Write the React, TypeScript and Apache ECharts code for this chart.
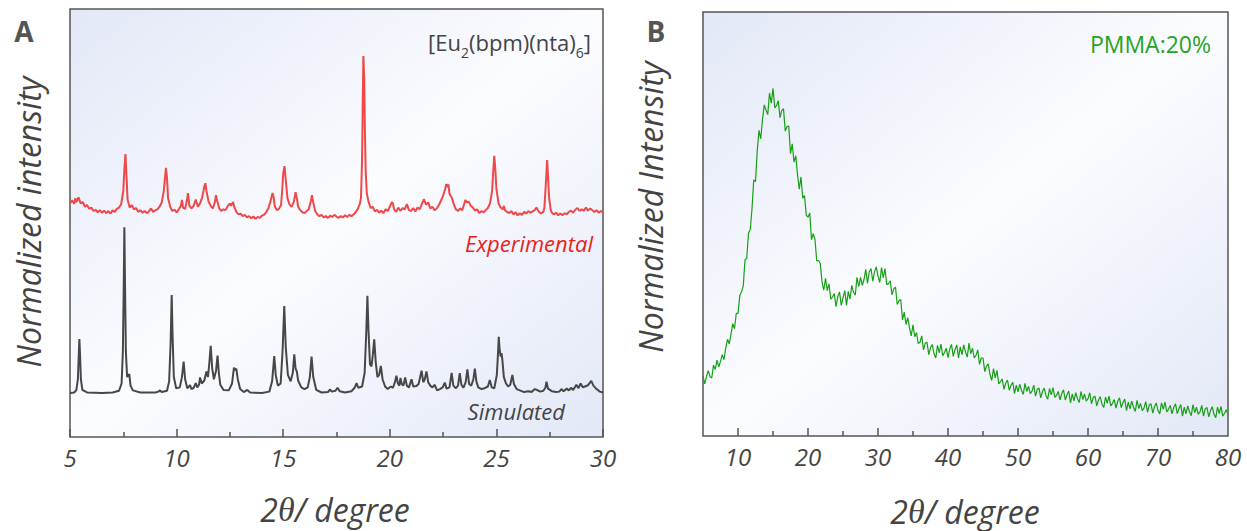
import React, { useEffect, useRef } from 'react';
import * as echarts from 'echarts';

// ---- Panel A: experimental PXRD (red), values already include the vertical offset ----
const EXP_POINTS: number[][] = [
  [5.0, 54.6], [5.1, 55.3], [5.2, 54.5], [5.25, 55.8], [5.3, 54.9], [5.4, 56.0], [5.5, 54.6], [5.6, 54.9], [5.7, 53.8], [5.8, 54.2],
  [5.9, 53.3], [6.0, 53.6], [6.1, 52.8], [6.2, 53.1], [6.3, 52.5], [6.4, 53.0], [6.5, 52.4], [6.6, 52.9], [6.7, 52.3], [6.8, 52.8],
  [6.9, 52.2], [7.0, 53.0], [7.1, 52.6], [7.2, 53.3], [7.3, 53.6], [7.4, 54.4], [7.5, 57.5], [7.55, 62.5], [7.6, 66.1], [7.65, 61.0],
  [7.7, 55.5], [7.8, 53.6], [7.9, 54.2], [8.0, 53.2], [8.1, 53.5], [8.2, 52.6], [8.3, 53.0], [8.4, 52.4], [8.5, 52.8], [8.6, 52.3],
  [8.7, 52.7], [8.8, 53.4], [8.9, 52.6], [9.0, 53.0], [9.1, 53.2], [9.2, 53.8], [9.3, 54.8], [9.4, 57.5], [9.5, 62.9], [9.55, 60.5],
  [9.6, 55.8], [9.7, 53.8], [9.8, 52.8], [9.9, 53.1], [10.0, 52.5], [10.1, 53.2], [10.2, 54.0], [10.25, 55.4], [10.3, 53.6], [10.4, 53.3],
  [10.5, 55.8], [10.53, 57.0], [10.6, 54.0], [10.7, 53.4], [10.8, 54.0], [10.9, 55.5], [11.0, 53.8], [11.1, 54.6], [11.2, 56.0], [11.3, 58.5],
  [11.35, 59.3], [11.4, 57.5], [11.5, 55.0], [11.6, 54.0], [11.7, 53.4], [11.8, 55.0], [11.85, 56.5], [11.9, 55.2], [12.0, 53.4], [12.1, 52.8],
  [12.2, 53.2], [12.3, 53.0], [12.4, 54.0], [12.5, 54.6], [12.55, 54.0], [12.65, 54.9], [12.7, 53.8], [12.8, 52.6], [12.9, 52.0], [13.0, 52.2],
  [13.1, 51.6], [13.2, 51.9], [13.3, 51.3], [13.4, 51.6], [13.5, 51.1], [13.6, 51.5], [13.7, 51.0], [13.8, 51.4], [13.9, 51.2], [14.0, 51.7],
  [14.1, 51.9], [14.2, 52.5], [14.3, 53.4], [14.4, 55.0], [14.5, 57.0], [14.55, 56.2], [14.6, 54.0], [14.7, 53.0], [14.8, 53.3], [14.9, 54.2],
  [14.95, 57.5], [15.0, 61.5], [15.06, 63.3], [15.12, 60.0], [15.2, 55.8], [15.3, 54.3], [15.4, 53.8], [15.5, 55.0], [15.58, 57.2], [15.65, 55.5],
  [15.7, 53.8], [15.8, 53.0], [15.9, 52.5], [16.0, 52.3], [16.1, 52.8], [16.2, 53.2], [16.3, 55.2], [16.35, 56.5], [16.4, 55.0], [16.5, 52.8],
  [16.6, 52.0], [16.7, 51.6], [16.8, 51.9], [16.9, 51.3], [17.0, 51.6], [17.1, 51.2], [17.2, 51.7], [17.3, 51.4], [17.4, 51.9], [17.5, 51.5],
  [17.6, 51.2], [17.7, 51.6], [17.8, 51.3], [17.9, 51.8], [18.0, 51.4], [18.1, 51.9], [18.2, 51.6], [18.3, 52.0], [18.4, 52.5], [18.5, 53.3],
  [18.6, 54.5], [18.65, 56.0], [18.7, 65.0], [18.73, 78.0], [18.76, 89.0], [18.8, 84.0], [18.83, 72.0], [18.87, 62.0], [18.92, 57.0], [19.0, 55.0],
  [19.1, 53.5], [19.2, 53.8], [19.3, 52.7], [19.4, 53.1], [19.5, 52.4], [19.6, 52.9], [19.7, 52.3], [19.8, 53.2], [19.9, 52.8], [20.0, 53.8],
  [20.1, 54.9], [20.15, 54.5], [20.2, 53.2], [20.3, 52.6], [20.4, 53.6], [20.5, 52.8], [20.6, 53.5], [20.7, 53.2], [20.8, 54.4], [20.9, 53.0],
  [21.0, 52.8], [21.1, 53.5], [21.2, 52.7], [21.3, 53.6], [21.4, 53.2], [21.5, 54.4], [21.6, 55.6], [21.7, 54.3], [21.8, 54.8], [21.9, 53.4],
  [22.0, 53.8], [22.1, 53.0], [22.2, 53.4], [22.3, 54.2], [22.4, 55.2], [22.5, 56.4], [22.6, 58.0], [22.65, 59.1], [22.7, 58.4], [22.75, 59.0],
  [22.8, 56.8], [22.9, 56.0], [23.0, 54.4], [23.1, 53.2], [23.2, 52.8], [23.3, 53.4], [23.4, 53.0], [23.5, 54.6], [23.55, 55.4], [23.6, 54.8],
  [23.7, 55.0], [23.8, 54.0], [23.9, 53.6], [24.0, 52.9], [24.1, 53.2], [24.2, 52.3], [24.3, 52.8], [24.4, 52.5], [24.5, 53.0], [24.6, 53.5],
  [24.7, 54.6], [24.8, 57.5], [24.85, 62.0], [24.9, 65.7], [24.95, 62.5], [25.0, 58.0], [25.1, 54.6], [25.2, 53.6], [25.3, 53.2], [25.35, 54.0],
  [25.4, 53.0], [25.5, 52.6], [25.6, 52.3], [25.7, 52.8], [25.8, 52.0], [25.9, 52.5], [26.0, 51.8], [26.1, 52.3], [26.2, 51.9], [26.3, 52.6],
  [26.4, 52.2], [26.5, 52.8], [26.6, 52.4], [26.7, 52.7], [26.8, 53.0], [26.88, 53.6], [26.95, 53.0], [27.0, 52.6], [27.1, 52.2], [27.2, 52.6],
  [27.25, 53.5], [27.3, 57.5], [27.35, 62.0], [27.38, 64.7], [27.42, 61.0], [27.47, 56.0], [27.55, 53.0], [27.6, 52.4], [27.7, 52.0], [27.8, 52.4],
  [27.9, 51.8], [28.0, 52.2], [28.1, 51.8], [28.2, 52.3], [28.3, 52.0], [28.4, 52.6], [28.5, 52.9], [28.6, 52.4], [28.7, 53.1], [28.8, 53.5],
  [28.9, 52.8], [29.0, 53.2], [29.1, 52.9], [29.2, 53.6], [29.3, 52.9], [29.4, 53.4], [29.5, 53.0], [29.6, 52.6], [29.7, 53.0], [29.8, 52.4],
  [29.9, 52.8], [30.0, 52.5],
];

// ---- Panel A: simulated PXRD (dark grey) ----
const SIM_POINTS: number[][] = [
  [5.0, 10.3], [5.2, 10.4], [5.3, 11.0], [5.37, 13.5], [5.41, 19.0], [5.44, 22.9], [5.47, 19.5], [5.51, 13.5], [5.58, 11.0], [5.8, 10.4],
  [6.5, 10.3], [7.0, 10.4], [7.3, 10.8], [7.42, 12.5], [7.48, 20.0], [7.52, 35.0], [7.55, 49.0], [7.58, 36.0], [7.62, 20.0], [7.68, 14.0],
  [7.74, 14.5], [7.78, 14.7], [7.84, 12.0], [7.95, 10.9], [8.3, 10.4], [9.0, 10.4], [9.15, 10.6], [9.22, 10.9], [9.3, 10.5], [9.55, 10.8],
  [9.65, 13.0], [9.72, 22.0], [9.77, 33.2], [9.81, 24.0], [9.87, 14.0], [9.98, 11.4], [10.15, 11.6], [10.25, 14.0], [10.33, 17.6], [10.4, 13.5],
  [10.5, 11.4], [10.58, 11.8], [10.63, 12.1], [10.7, 11.2], [10.8, 11.5], [10.9, 12.6], [10.97, 11.6], [11.05, 12.2], [11.1, 13.9], [11.18, 12.5],
  [11.3, 13.2], [11.4, 15.3], [11.47, 14.0], [11.53, 17.0], [11.6, 21.3], [11.67, 16.0], [11.75, 13.5], [11.85, 15.5], [11.92, 19.0], [11.98, 15.0],
  [12.05, 12.2], [12.2, 11.0], [12.45, 10.9], [12.6, 12.5], [12.69, 16.2], [12.75, 15.6], [12.8, 16.0], [12.87, 13.5], [12.98, 11.2], [13.15, 10.5],
  [13.31, 11.0], [13.45, 10.4], [14.0, 10.3], [14.35, 10.6], [14.48, 13.0], [14.58, 18.9], [14.65, 14.5], [14.75, 12.0], [14.88, 12.5], [14.97, 20.0],
  [15.05, 30.6], [15.12, 21.0], [15.22, 14.5], [15.35, 13.0], [15.45, 15.0], [15.52, 19.3], [15.58, 16.0], [15.64, 15.3], [15.7, 13.2], [15.85, 11.6],
  [16.0, 11.2], [16.15, 11.6], [16.25, 14.0], [16.33, 18.8], [16.41, 14.0], [16.55, 11.0], [16.8, 10.4], [17.1, 10.5], [17.19, 11.1], [17.28, 10.6],
  [17.45, 10.8], [17.55, 11.5], [17.65, 10.7], [17.9, 10.4], [18.2, 10.7], [18.35, 11.5], [18.44, 12.6], [18.52, 11.5], [18.7, 11.8], [18.82, 15.0],
  [18.9, 25.0], [18.95, 33.0], [19.0, 25.0], [19.07, 17.0], [19.14, 16.5], [19.2, 19.0], [19.27, 22.8], [19.34, 17.5], [19.42, 14.0], [19.5, 14.5],
  [19.58, 16.6], [19.66, 13.5], [19.78, 11.8], [19.9, 11.2], [20.05, 11.8], [20.15, 11.5], [20.25, 13.0], [20.31, 14.3], [20.38, 12.5], [20.45, 12.0],
  [20.5, 13.8], [20.56, 12.4], [20.64, 12.0], [20.72, 13.9], [20.8, 12.0], [20.9, 11.6], [21.02, 13.5], [21.1, 11.8], [21.25, 11.9], [21.35, 12.4],
  [21.49, 15.5], [21.57, 12.8], [21.64, 13.5], [21.72, 15.3], [21.8, 12.8], [21.9, 12.0], [22.0, 11.6], [22.1, 12.2], [22.22, 10.9], [22.35, 11.2],
  [22.48, 11.6], [22.58, 12.7], [22.66, 11.3], [22.8, 11.6], [22.9, 15.0], [22.98, 12.0], [23.1, 11.4], [23.2, 12.0], [23.28, 14.9], [23.36, 12.2],
  [23.45, 11.5], [23.56, 12.8], [23.64, 15.8], [23.72, 12.4], [23.82, 12.0], [23.92, 13.5], [23.99, 16.0], [24.06, 13.0], [24.15, 11.6], [24.3, 11.2],
  [24.45, 11.4], [24.6, 11.8], [24.69, 13.3], [24.78, 11.6], [24.9, 11.4], [25.02, 14.5], [25.08, 20.0], [25.11, 23.4], [25.15, 20.5], [25.2, 18.8],
  [25.24, 19.6], [25.28, 18.0], [25.35, 14.0], [25.45, 12.5], [25.55, 11.8], [25.65, 12.2], [25.75, 14.5], [25.82, 12.4], [25.95, 11.2], [26.1, 10.9],
  [26.3, 10.5], [26.5, 10.7], [26.65, 10.5], [26.8, 11.2], [26.9, 11.0], [27.05, 10.6], [27.2, 10.8], [27.3, 11.5], [27.35, 12.9], [27.42, 11.3],
  [27.6, 10.7], [27.8, 10.5], [27.95, 10.6], [28.05, 11.2], [28.15, 10.7], [28.3, 11.3], [28.4, 10.9], [28.5, 11.5], [28.6, 11.0], [28.75, 12.2],
  [28.85, 11.4], [28.95, 12.5], [29.05, 11.6], [29.15, 11.8], [29.3, 12.1], [29.45, 13.1], [29.55, 12.0], [29.7, 11.2], [29.85, 10.6], [30.0, 10.4],
];

// ---- Panel B: PMMA:20% pattern, sampled every 0.25 degree from 5 to 80 ----
const PMMA_X_START = 5;
const PMMA_X_STEP = 0.25;
const PMMA_Y: number[] = [
  14.1, 12.3, 14.1, 15.4, 14.0, 13.7, 16.7, 15.7, 17.9, 16.3, 17.6, 19.2, 18.0, 20.8, 22.8, 21.7,
  24.1, 26.5, 25.3, 28.9, 28.9, 33.1, 34.0, 35.4, 41.5, 41.9, 47.9, 48.7, 53.6, 60.4, 60.0, 67.3,
  72.1, 70.1, 74.7, 78.1, 76.9, 75.8, 80.9, 78.5, 82.0, 77.4, 77.9, 79.1, 75.1, 76.8, 77.2, 71.9,
  73.0, 73.1, 66.6, 68.9, 64.6, 66.1, 61.7, 58.2, 61.1, 56.1, 56.7, 52.1, 51.6, 52.6, 46.3, 47.7,
  46.3, 41.3, 41.4, 40.7, 36.4, 34.4, 37.2, 34.3, 35.9, 32.3, 32.7, 33.6, 30.5, 32.8, 34.0, 30.8,
  32.6, 34.3, 30.8, 34.1, 32.3, 35.5, 33.9, 33.2, 37.4, 35.2, 37.4, 35.5, 36.9, 39.3, 36.0, 38.7,
  39.5, 36.5, 38.7, 39.9, 37.7, 36.2, 39.7, 37.3, 39.5, 35.7, 35.9, 36.6, 33.3, 34.7, 35.1, 31.0,
  31.9, 32.2, 27.4, 29.2, 26.3, 27.9, 25.5, 23.6, 26.2, 23.4, 24.4, 21.8, 22.1, 23.6, 20.3, 21.9,
  22.1, 19.2, 20.8, 21.6, 19.4, 18.4, 21.4, 19.6, 21.7, 18.9, 19.7, 20.7, 18.5, 20.5, 21.6, 18.8,
  20.4, 21.5, 18.4, 21.0, 19.2, 21.5, 19.8, 18.6, 21.9, 19.4, 20.7, 18.4, 19.0, 20.3, 16.9, 18.4,
  18.4, 15.2, 16.5, 17.0, 14.5, 13.1, 15.9, 13.7, 15.5, 12.3, 12.8, 13.4, 11.0, 12.5, 13.2, 10.8,
  11.9, 12.7, 10.0, 12.0, 10.4, 12.2, 10.8, 9.8, 12.4, 10.5, 11.7, 10.0, 10.6, 12.0, 9.4, 11.0,
  11.3, 9.0, 10.5, 11.3, 9.5, 8.7, 11.2, 9.7, 11.4, 9.1, 9.6, 10.5, 8.5, 10.0, 10.9, 8.5,
  9.7, 10.6, 7.8, 9.9, 8.3, 10.2, 8.8, 7.9, 10.5, 8.6, 9.9, 8.2, 8.8, 10.2, 7.6, 9.1,
  9.4, 7.1, 8.5, 9.3, 7.5, 6.7, 9.2, 7.7, 9.4, 7.1, 7.7, 8.6, 6.6, 8.2, 9.0, 6.7,
  7.9, 8.7, 6.0, 8.0, 6.4, 8.2, 6.8, 5.8, 8.4, 6.5, 7.7, 6.0, 6.6, 8.1, 5.6, 7.3,
  7.6, 5.4, 6.9, 7.8, 6.0, 5.2, 7.8, 6.3, 8.0, 5.7, 6.3, 7.2, 5.2, 6.8, 7.6, 5.3,
  6.5, 7.4, 4.7, 6.8, 5.2, 7.1, 5.7, 4.8, 7.4, 5.5, 6.8, 5.1, 5.7, 7.2, 4.7, 6.4,
  6.7, 4.5, 6.0, 6.9, 5.1, 4.3, 6.8, 5.3, 7.0, 4.7, 5.3, 6.2, 5.1,
];

const B_LABELS = [10, 20, 30, 40, 50, 60, 70, 80];
const B_MAJOR_TICKS = [10, 20, 30, 40, 50, 60, 70];
const B_MINOR_TICKS = [15, 25, 35, 45, 55, 65, 75];

const FONT = "'Open Sans', 'Noto Sans', sans-serif";
const AXIS_COLOR = '#555555';
const TEXT_COLOR = '#444444';

export default function App() {
  const ref = useRef<HTMLDivElement>(null);

  useEffect(() => {
    document.body.style.margin = '0';
    if (!ref.current) return;
    const chart = echarts.init(ref.current, null, { renderer: 'svg' });

    const bg = () =>
      new echarts.graphic.LinearGradient(0, 0, 1, 1, [
        { offset: 0, color: '#e3e8f7' },
        { offset: 0.5, color: '#fbfcff' },
        { offset: 1, color: '#e3e8f7' },
      ]);

    const gridCommon = {
      show: true,
      borderColor: AXIS_COLOR,
      borderWidth: 1.5,
      containLabel: false,
      outerBoundsMode: 'none',
    };

    const labelStyle = {
      fontFamily: FONT,
      fontStyle: 'italic',
      fontSize: 24,
      color: TEXT_COLOR,
      margin: 8,
    };

    const pmmaData = PMMA_Y.map((y, i) => [PMMA_X_START + i * PMMA_X_STEP, y]);

    const centered = { align: 'center', verticalAlign: 'middle', textAlign: 'center', textVerticalAlign: 'middle' };
    const rightMid = { align: 'right', verticalAlign: 'middle', textAlign: 'right', textVerticalAlign: 'middle' };

    const xTitle = {
      text: '{a|2}{t|θ}{a|/ degree}',
      rich: {
        a: { fontFamily: FONT, fontStyle: 'italic', fontSize: 32, fill: TEXT_COLOR },
        t: { fontFamily: "'Liberation Serif', 'DejaVu Serif', serif", fontStyle: 'italic', fontSize: 34, fill: TEXT_COLOR },
      },
      ...centered,
    };

    const option: any = {
      animation: false,
      grid: [
        { ...gridCommon, left: 70, top: 9, width: 533, height: 428, backgroundColor: bg() },
        { ...gridCommon, left: 703, top: 12, width: 525, height: 424, backgroundColor: bg() },
      ],
      xAxis: [
        {
          type: 'value', gridIndex: 0, min: 5, max: 30, interval: 5,
          axisLine: { show: false },
          axisTick: { show: true, inside: true, length: 8, lineStyle: { color: AXIS_COLOR, width: 1.5 } },
          minorTick: { show: true, splitNumber: 2, length: 5, lineStyle: { color: AXIS_COLOR, width: 1.5 } },
          splitLine: { show: false },
          axisLabel: { ...labelStyle },
        },
        {
          type: 'value', gridIndex: 1, min: 5, max: 80, position: 'bottom',
          axisLine: { show: false },
          axisTick: { show: true, inside: true, length: 8, customValues: B_MAJOR_TICKS, lineStyle: { color: AXIS_COLOR, width: 1.5 } },
          splitLine: { show: false },
          axisLabel: { ...labelStyle, customValues: B_LABELS },
        },
        {
          type: 'value', gridIndex: 1, min: 5, max: 80, position: 'bottom', offset: 0,
          axisLine: { show: false },
          axisTick: { show: true, inside: true, length: 5, customValues: B_MINOR_TICKS, lineStyle: { color: AXIS_COLOR, width: 1.5 } },
          splitLine: { show: false },
          axisLabel: { show: false },
        },
      ],
      yAxis: [
        { type: 'value', gridIndex: 0, min: 0, max: 100, show: false, splitLine: { show: false } },
        { type: 'value', gridIndex: 1, min: 0, max: 100, show: false, splitLine: { show: false } },
      ],
      series: [
        {
          name: 'Experimental', type: 'line', xAxisIndex: 0, yAxisIndex: 0, data: EXP_POINTS,
          showSymbol: false, lineStyle: { color: '#ef4848', width: 2 }, z: 3,
        },
        {
          name: 'Simulated', type: 'line', xAxisIndex: 0, yAxisIndex: 0, data: SIM_POINTS,
          showSymbol: false, lineStyle: { color: '#474747', width: 2 }, z: 3,
        },
        {
          name: 'PMMA:20%', type: 'line', xAxisIndex: 1, yAxisIndex: 1, data: pmmaData,
          showSymbol: false, lineStyle: { color: '#16a016', width: 1.2 }, z: 3,
        },
      ],
      graphic: [
        { type: 'text', x: 24, y: 31, style: { text: 'A', fontFamily: FONT, fontWeight: 'bold', fontSize: 28, fill: '#555', ...centered } },
        { type: 'text', x: 656, y: 31, style: { text: 'B', fontFamily: FONT, fontWeight: 'bold', fontSize: 28, fill: '#555', ...centered } },
        {
          type: 'text', x: 591, y: 42, z: 10,
          style: {
            text: '[Eu{s|2}(bpm)(nta){s|6}]', fontFamily: FONT, fontSize: 22, fill: TEXT_COLOR,
            ...rightMid,
            rich: { s: { fontFamily: FONT, fontSize: 14, fill: TEXT_COLOR, verticalAlign: 'bottom', padding: [20, 0, 0, 0] } },
          },
        },
        { type: 'text', x: 593, y: 243, z: 10, style: { text: 'Experimental', fontFamily: FONT, fontStyle: 'italic', fontSize: 22, fill: '#e8231c', ...rightMid } },
        { type: 'text', x: 565, y: 411, z: 10, style: { text: 'Simulated', fontFamily: FONT, fontStyle: 'italic', fontSize: 22, fill: TEXT_COLOR, ...rightMid } },
        { type: 'text', x: 1211, y: 44, z: 10, style: { text: 'PMMA:20%', fontFamily: FONT, fontSize: 23, fill: '#26a326', ...rightMid } },
        { type: 'text', x: 28, y: 222, rotation: Math.PI / 2, style: { text: 'Normalized intensity', fontFamily: FONT, fontStyle: 'italic', fontSize: 32, fill: TEXT_COLOR, ...centered } },
        { type: 'text', x: 650, y: 207, rotation: Math.PI / 2, style: { text: 'Normalized Intensity', fontFamily: FONT, fontStyle: 'italic', fontSize: 32, fill: TEXT_COLOR, ...centered } },
        { type: 'text', x: 335, y: 509, style: { ...xTitle } },
        { type: 'text', x: 965, y: 511, style: { ...xTitle } },
      ],
    };

    chart.setOption(option);
    return () => chart.dispose();
  }, []);

  return <div ref={ref} style={{ position: 'absolute', left: 0, top: 0, width: 1247, height: 531 }} />;
}
